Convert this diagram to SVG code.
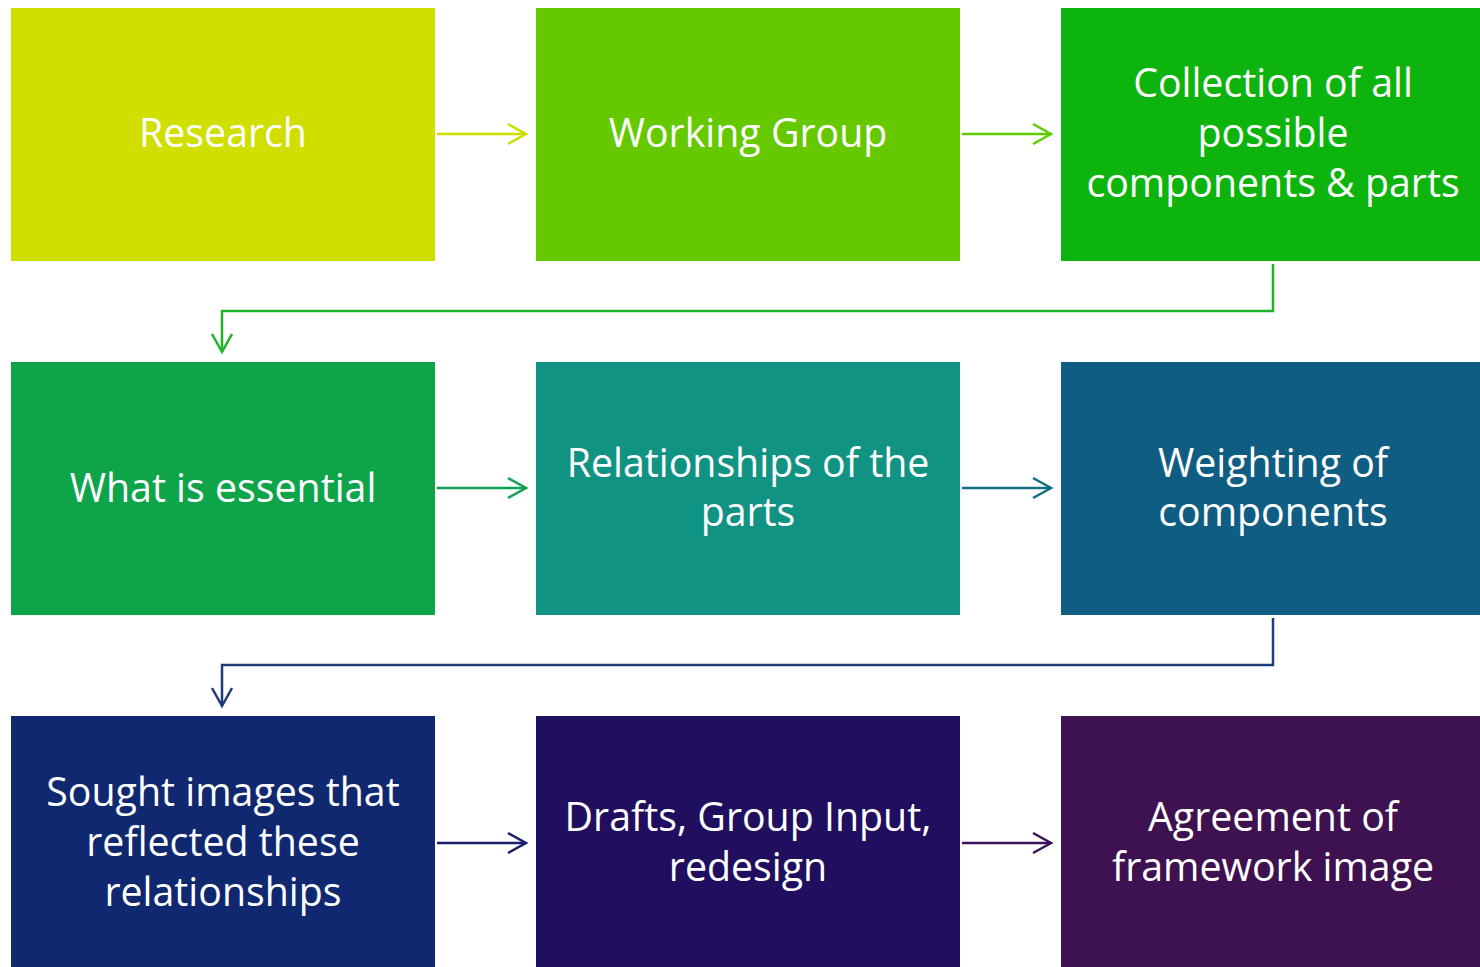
<svg xmlns="http://www.w3.org/2000/svg" width="1480" height="967" viewBox="0 0 1480 967">
<style>
.box{stroke:none}
.t{font-family:"Open Sans","Noto Sans","Liberation Sans",sans-serif;font-size:39.3px;fill:#ffffff;text-anchor:middle}
.c{fill:none;stroke-width:2.5;stroke-linecap:butt;stroke-linejoin:miter}
.h{fill:none;stroke-width:2.5;stroke-linejoin:miter}
</style>
<rect width="1480" height="967" fill="#ffffff"/>
<g id="n1"><rect class="box" x="11" y="8" width="424" height="253" fill="#D0DF00"/><text class="t" x="223" y="147">Research</text></g>
<g id="n2"><rect class="box" x="536" y="8" width="424" height="253" fill="#66C900"/><text class="t" x="748" y="147">Working Group</text></g>
<g id="n3"><rect class="box" x="1061" y="8" width="424" height="253" fill="#0DB40D"/><text class="t" x="1273" y="97">Collection of all</text><text class="t" x="1273" y="147">possible</text><text class="t" x="1273" y="197">components &amp; parts</text></g>
<g id="n4"><rect class="box" x="11" y="362" width="424" height="253" fill="#0DA44A"/><text class="t" x="223" y="502">What is essential</text></g>
<g id="n5"><rect class="box" x="536" y="362" width="424" height="253" fill="#119383"/><text class="t" x="748" y="477">Relationships of the</text><text class="t" x="748" y="526">parts</text></g>
<g id="n6"><rect class="box" x="1061" y="362" width="424" height="253" fill="#105D83"/><text class="t" x="1273" y="477">Weighting of</text><text class="t" x="1273" y="526">components</text></g>
<g id="n7"><rect class="box" x="11" y="716" width="424" height="253" fill="#10286F"/><text class="t" x="223" y="806">Sought images that</text><text class="t" x="223" y="856">reflected these</text><text class="t" x="223" y="906">relationships</text></g>
<g id="n8"><rect class="box" x="536" y="716" width="424" height="253" fill="#200F5E"/><text class="t" x="748" y="831">Drafts, Group Input,</text><text class="t" x="748" y="881">redesign</text></g>
<g id="n9"><rect class="box" x="1061" y="716" width="424" height="253" fill="#3E1250"/><text class="t" x="1273" y="831">Agreement of</text><text class="t" x="1273" y="881">framework image</text></g>
<g id="connectors">
<g stroke="#CCDD00"><path class="c" d="M437,134 H526"/><path class="h" d="M508,124 L526,134 L508,144"/></g>
<g stroke="#5FCC00"><path class="c" d="M962,134 H1051"/><path class="h" d="M1033,124 L1051,134 L1033,144"/></g>
<g stroke="#1DB526"><path class="c" d="M1273,264 V311 H222 V351"/><path class="h" d="M212,334 L222,352 L232,334"/></g>
<g stroke="#0E9E55"><path class="c" d="M437,488 H526"/><path class="h" d="M508,478 L526,488 L508,498"/></g>
<g stroke="#137082"><path class="c" d="M962,488 H1051"/><path class="h" d="M1033,478 L1051,488 L1033,498"/></g>
<g stroke="#1E3C7A"><path class="c" d="M1273,618 V665 H222 V705"/><path class="h" d="M212,688 L222,706 L232,688"/></g>
<g stroke="#1A1F6B"><path class="c" d="M437,843 H526"/><path class="h" d="M508,833 L526,843 L508,853"/></g>
<g stroke="#3A1458"><path class="c" d="M962,843 H1051"/><path class="h" d="M1033,833 L1051,843 L1033,853"/></g>
</g>
</svg>
